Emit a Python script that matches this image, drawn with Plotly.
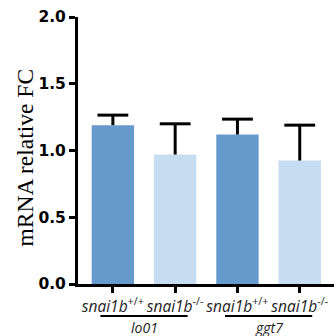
import plotly.graph_objects as go

# Data
categories = ["snai1b +/+ (lo01)", "snai1b -/- (lo01)", "snai1b +/+ (ggt7)", "snai1b -/- (ggt7)"]
tick_labels = ["<i>snai1b</i><sup>+/+</sup>", "<i>snai1b</i><sup>-/-</sup>",
               "<i>snai1b</i><sup>+/+</sup>", "<i>snai1b</i><sup>-/-</sup>"]
means = [1.19, 0.97, 1.12, 0.925]
errors = [0.075, 0.23, 0.115, 0.265]
bar_colors = ["#6699cc", "#c6dcf1", "#6699cc", "#c6dcf1"]
groups = ["lo01", "ggt7"]
group_centers = [0.5, 2.5]
y_ticks = [0, 0.5, 1.0, 1.5, 2.0]
y_tick_labels = ["0.0", "0.5", "1.0", "1.5", "2.0"]
y_title = "mRNA relative FC"

xpos = list(range(len(categories)))
tops = [m + e for m, e in zip(means, errors)]

fig = go.Figure()
fig.add_trace(go.Bar(x=xpos, y=means, marker=dict(color=bar_colors, line=dict(width=0)),
                     width=0.68, showlegend=False, hoverinfo="skip"))
fig.add_trace(go.Scatter(
    x=xpos, y=tops, mode="markers",
    marker=dict(symbol="line-ew", size=22, line=dict(width=3, color="black"), color="black"),
    error_y=dict(type="data", symmetric=False, array=[0]*4, arrayminus=errors,
                 width=0, thickness=3, color="black"),
    showlegend=False, hoverinfo="skip", cliponaxis=False))

# Group underlines and labels
for g, c in zip(groups, group_centers):
    fig.add_shape(type="line", xref="x", yref="paper", x0=c - 0.7, x1=c + 0.7,
                  y0=-0.12, y1=-0.12, line=dict(color="black", width=2))
    fig.add_annotation(x=c, xref="x", y=-0.163, yref="paper", text="<i>" + g + "</i>",
                       showarrow=False, yanchor="middle", borderpad=0,
                       font=dict(family="Open Sans", size=14, color="#222"))

# Y axis title
fig.add_annotation(x=-0.207, xref="paper", y=0.474, yref="paper", text=y_title,
                   textangle=-90, showarrow=False, xanchor="center", yanchor="middle",
                   font=dict(family="Liberation Serif", size=23.5, color="black"))

fig.update_layout(
    width=334, height=336,
    margin=dict(l=78, r=0, t=17, b=52),
    paper_bgcolor="white", plot_bgcolor="white",
    xaxis=dict(range=[-0.56, 3.55], tickmode="array", tickvals=xpos, ticktext=tick_labels,
               showline=True, linecolor="black", linewidth=3, ticks="outside",
               ticklen=6, tickwidth=3, tickcolor="black", showgrid=False, zeroline=False,
               tickfont=dict(family="Open Sans", size=15.5, color="#222"), tickangle=0,
               automargin=False),
    yaxis=dict(range=[0, 2.0], tickvals=y_ticks,
               ticktext=["<b>" + t + "</b>" for t in y_tick_labels],
               showline=True, linecolor="black", linewidth=3, ticks="outside",
               ticklen=6, tickwidth=3, tickcolor="black", showgrid=False, zeroline=False,
               tickfont=dict(family="DejaVu Sans", size=15.5, color="black"),
               automargin=False),
)

fig.write_html("out.html", config={"displayModeBar": False},
               post_script="document.body.style.margin='0';")
